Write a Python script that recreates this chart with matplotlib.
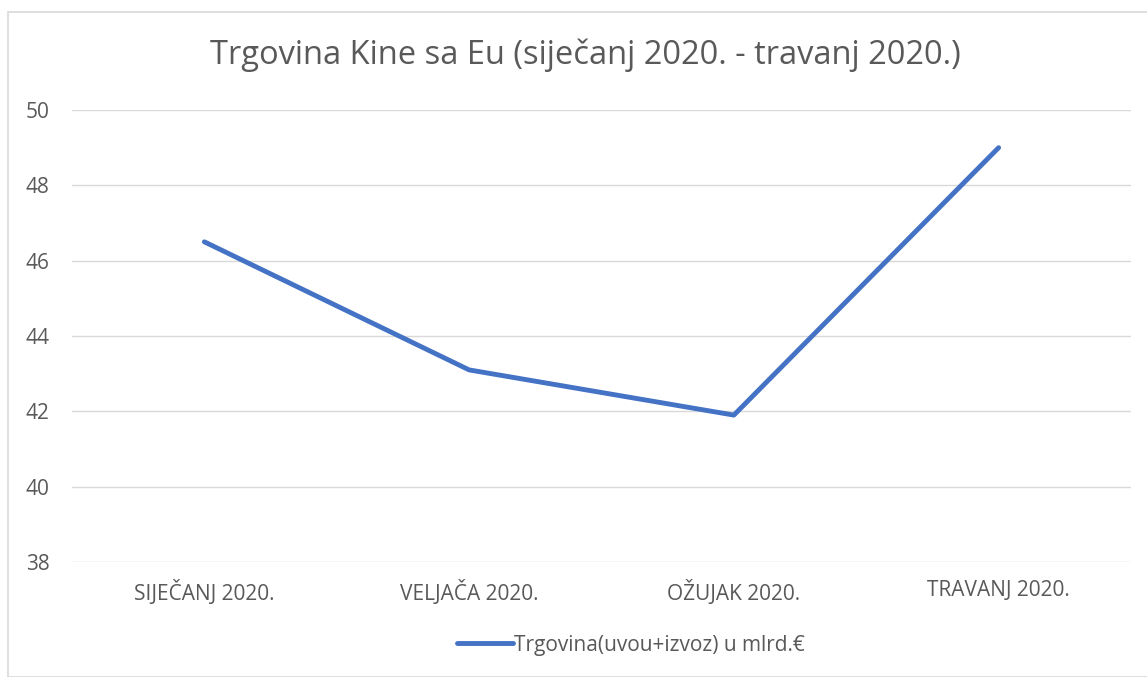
import matplotlib
matplotlib.use("Agg")
import matplotlib.pyplot as plt
from matplotlib.patches import Rectangle

categories = ["SIJEČANJ 2020.", "VELJAČA 2020.", "OŽUJAK 2020.", "TRAVANJ 2020."]
values = [46.5, 43.1, 41.9, 49.0]
yticks = [38, 40, 42, 44, 46, 48, 50]
title = "Trgovina Kine sa Eu (siječanj 2020. - travanj 2020.)"
series_name = "Trgovina(uvou+izvoz) u mlrd.€"

plt.rcParams['font.family'] = ['Open Sans', 'DejaVu Sans']
grey = "#595959"

fig = plt.figure(figsize=(11.47, 6.77), dpi=100)
fig.patches.append(Rectangle((8/1147, 0), 1.2, 1 - 12/677, transform=fig.transFigure,
                             fill=False, edgecolor="#D9D9D9", linewidth=1.2))
ax = fig.add_axes([72/1147, 1 - 562/677, (1131-72)/1147, (562-110)/677])
x = list(range(len(categories)))
ax.plot(x, values, color="#4472C4", linewidth=3.5, solid_capstyle="round", label=series_name, zorder=3)
ax.set_xlim(-0.5, len(categories) - 0.5)
ax.set_ylim(38, 50)
ax.set_yticks(yticks)
ax.set_xticks(x)
ax.set_xticklabels(categories)
ax.yaxis.grid(True, color="#D9D9D9", linewidth=1)
ax.set_axisbelow(True)
for s in ax.spines.values():
    s.set_visible(False)
ax.tick_params(axis='both', length=0, colors=grey, labelsize=15)
ax.tick_params(axis='y', pad=16)
ax.tick_params(axis='x', pad=13)
fig.text(585/1147, 1 - 55/677, title, ha='center', va='center', fontsize=23.5, color=grey)
leg = fig.legend(loc='center', bbox_to_anchor=(631/1147, 1 - 645/677), frameon=False,
                 fontsize=15, handlelength=2.7, handletextpad=0.05, labelcolor=grey)
fig.savefig("out.png", dpi=100, facecolor="white")
